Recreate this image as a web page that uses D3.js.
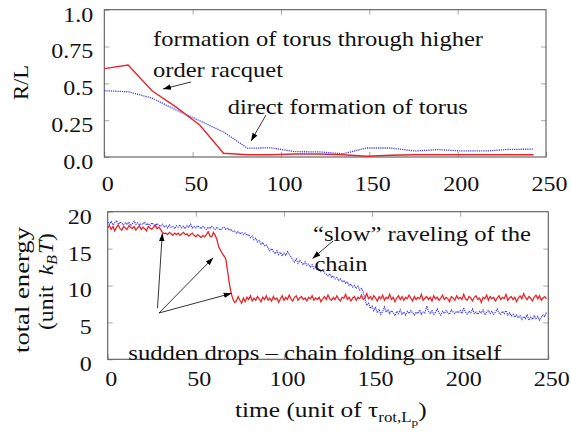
<!DOCTYPE html>
<html>
<head>
<meta charset="utf-8">
<script src="https://cdn.jsdelivr.net/npm/d3@7"></script>
<style>
  body { margin: 0; background: #fff; }
</style>
</head>
<body>
<svg id="chart" width="571" height="434" style="display:block;font-family:'Liberation Serif',serif"></svg>
<script>
// ---- radius-to-length ratio R/L (upper panel) ----
const rlTime = [0, 13.5, 27, 40.5, 54, 67.5, 81, 94.5, 108, 121.5, 135, 148.5, 162, 175.5, 189, 202.5, 216, 229.5, 243];
const rlRacquet = [0.60, 0.625, 0.45, 0.34, 0.217, 0.025, 0.015, 0.015, 0.02, 0.02, 0.015, 0.005, 0.012, 0.015, 0.015, 0.015, 0.015, 0.015, 0.015];
const rlDirect = [0.45, 0.443, 0.40, 0.32, 0.246, 0.17, 0.06, 0.062, 0.036, 0.035, 0.022, 0.061, 0.061, 0.041, 0.05, 0.041, 0.041, 0.052, 0.053];

// ---- total energy, one sample per time unit (lower panel) ----
const energyStep = 1;
const energyFolding = [
  17.8, 18.1, 17.6, 18.0, 17.4, 17.9, 18.2, 17.7, 17.5, 18.0,
  17.8, 17.6, 18.1, 17.9, 17.7, 18.0, 17.5, 17.8, 18.1, 17.6,
  17.9, 17.7, 17.4, 18.0, 17.8, 17.6, 17.9, 18.2, 17.7, 17.9,
  17.6, 17.2, 17.0, 17.1, 16.9, 17.2, 17.0, 16.8, 17.1, 16.9,
  17.1, 16.8, 17.0, 17.2, 16.9, 17.0, 16.7, 16.9, 17.1, 16.8,
  16.6, 16.9, 16.7, 16.5, 16.8, 16.6, 16.9, 17.3, 16.7, 16.6,
  17.2, 16.8, 16.2, 15.2, 14.8, 14.3, 14.0, 13.6, 12.0, 10.3,
  9.0, 8.2, 7.7, 7.9, 8.5, 8.0, 7.6, 8.3, 7.8, 8.4,
  8.1, 8.6, 7.9, 8.3, 8.0, 8.5, 8.2, 7.8, 8.4, 8.1,
  8.6, 8.0, 8.3, 7.9, 8.5, 8.1, 8.3, 7.7, 8.2, 8.6,
  8.0, 8.4, 8.1, 8.7, 8.2, 7.9, 8.4, 8.6, 8.0, 8.3,
  8.5, 8.1, 8.3, 7.9, 8.4, 8.2, 8.6, 8.0, 8.3, 8.1,
  8.4, 7.8, 8.2, 8.5, 8.1, 8.7, 8.2, 8.0, 8.4, 8.1,
  8.6, 8.2, 7.9, 8.4, 8.3, 8.8, 8.1, 8.4, 7.9, 8.3,
  8.5, 8.0, 8.4, 8.2, 8.7, 8.1, 8.3, 8.9, 8.2, 8.5,
  8.1, 8.6, 8.3, 7.9, 8.5, 8.2, 8.7, 8.0, 8.4, 8.2,
  8.8, 8.1, 8.4, 7.8, 8.3, 8.6, 8.1, 8.5, 8.0, 8.4,
  8.2, 8.7, 8.3, 7.9, 8.5, 8.1, 8.4, 8.2, 8.8, 8.0,
  8.3, 8.5, 8.1, 8.4, 7.9, 8.6, 8.2, 8.4, 8.0, 8.3,
  8.7, 8.1, 8.4, 8.2, 7.8, 8.5, 8.3, 8.0, 8.6, 8.2,
  8.4, 8.1, 8.8, 8.2, 8.0, 8.5, 8.3, 7.9, 8.4, 8.6,
  8.1, 8.3, 7.7, 8.4, 8.2, 8.7, 8.0, 8.5, 8.2, 8.4,
  7.9, 8.3, 8.6, 8.1, 8.4, 8.2, 8.8, 8.0, 8.3, 8.5,
  8.1, 8.4, 7.8, 8.3, 8.6, 8.2, 8.9, 8.4, 8.1, 8.5,
  8.3, 7.9, 8.4, 8.7, 8.2, 8.6, 8.0, 8.3, 8.5, 8.2
];
const energyRaveling = [
  18.6, 18.3, 18.7, 18.2, 18.5, 18.8, 18.3, 18.6, 18.4, 18.2,
  18.5, 18.3, 18.6, 18.1, 18.4, 18.7, 18.3, 18.5, 18.2, 18.4,
  18.3, 18.6, 18.2, 18.4, 18.1, 18.5, 18.3, 18.0, 18.4, 18.2,
  18.0, 18.3, 17.9, 18.1, 17.8, 18.2, 17.9, 18.0, 17.7, 18.1,
  17.9, 18.2, 17.8, 18.0, 17.7, 18.1, 17.9, 18.3, 17.8, 18.0,
  17.8, 18.1, 17.9, 17.7, 18.0, 17.8, 17.6, 17.9, 17.7, 18.0,
  17.8, 17.6, 17.9, 17.7, 17.5, 17.8, 17.9, 17.6, 17.8, 17.5,
  17.6, 17.3, 17.4, 17.1, 17.3, 17.0, 17.2, 16.9, 17.1, 16.8,
  16.9, 16.5, 16.7, 16.2, 16.4, 15.9, 16.1, 15.6, 15.8, 15.4,
  15.5, 15.1, 14.7, 15.0, 14.6, 14.3, 14.7, 14.2, 14.5, 14.0,
  14.4, 14.1, 14.6, 14.2, 13.9, 13.5, 13.2, 13.6, 13.0, 13.4,
  13.1, 12.8, 13.2, 12.7, 12.9, 12.5, 12.8, 12.3, 12.6, 12.1,
  12.3, 11.9, 12.1, 11.7, 11.5, 11.3, 11.6, 11.1, 11.3, 10.9,
  11.1, 10.7, 10.9, 10.5, 10.7, 10.3, 10.5, 10.0, 10.2, 9.8,
  10.0, 9.6, 9.9, 9.4, 9.6, 9.1, 8.2, 7.3, 7.6, 6.9,
  7.2, 6.6, 7.0, 6.3, 6.8, 6.1, 6.5, 7.1, 6.4, 6.7,
  6.2, 6.6, 6.3, 5.9, 6.5, 6.2, 6.7, 6.1, 6.4, 6.0,
  6.5, 6.2, 6.6, 6.3, 6.0, 6.4, 6.2, 6.7, 6.1, 6.4,
  6.3, 7.2, 6.5, 6.2, 6.6, 6.1, 6.4, 6.8, 6.3, 6.0,
  6.5, 6.2, 6.6, 6.3, 6.1, 6.7, 6.4, 6.2, 6.5, 6.3,
  6.6, 6.2, 7.0, 6.4, 6.1, 6.5, 6.3, 6.8, 6.2, 6.4,
  6.1, 6.5, 6.3, 6.7, 6.0, 6.4, 6.6, 6.2, 6.5, 6.1,
  6.4, 6.8, 6.3, 6.1, 6.5, 6.2, 6.6, 6.0, 6.3, 5.9,
  6.1, 5.7, 6.0, 5.6, 5.9, 5.4, 5.8, 5.5, 6.0, 5.3,
  5.7, 5.4, 5.9, 5.5, 5.8, 5.3, 5.7, 6.0, 5.8, 6.4
];

// ---- tick labels ----
const timeTicks = [0, 50, 100, 150, 200, 250];
const rlTicks = [0, 0.25, 0.5, 0.75, 1.0];
const rlTickLabels = ["0.0", "0.25", "0.5", "0.75", "1.0"];
const energyTicks = [0, 5, 10, 15, 20];

const RED = "#e8262a";
const BLUE = "#3b3bf5";
const SERIF = "Liberation Serif";
const WIDEN = 1.2; // glyphs in this figure are drawn wide

const svg = d3.select("#chart");

// arrowhead marker
svg.append("defs").append("marker")
  .attr("id", "head")
  .attr("viewBox", "0 0 10 10")
  .attr("refX", 10).attr("refY", 5)
  .attr("markerWidth", 8).attr("markerHeight", 8)
  .attr("markerUnits", "userSpaceOnUse")
  .attr("orient", "auto")
  .append("path").attr("d", "M0,1.5 L10,5 L0,8.5 Z").attr("fill", "#000");

function serif(sel, size) {
  sel.attr("font-family", SERIF).style("font-family", `'${SERIF}', serif`).attr("font-size", size).style("font-size", size + "px");
}

// widen a text element to a given advance with textLength
function widen(sel, width) {
  sel.each(function () {
    const w = width != null ? width : this.getComputedTextLength() * WIDEN;
    d3.select(this).attr("textLength", w).attr("lengthAdjust", "spacingAndGlyphs");
  });
}

// ---- panel helper: frame, inward mirrored ticks, labels ----
function panel(x, y, xTicks, yTicks, yFormat, opt) {
  const [x0, x1] = x.range();
  const [y0, y1] = y.range(); // y0 bottom, y1 top
  const g = svg.append("g");
  const styleTicks = sel => {
    sel.attr("font-family", null).attr("font-size", null);
    sel.select(".domain").remove();
    sel.selectAll(".tick line").attr("stroke", "#a8a8a8").attr("stroke-width", 1);
  };
  // bottom
  g.append("g").attr("transform", `translate(0,${y0})`)
    .call(d3.axisBottom(x).tickValues(xTicks).tickSize(-5).tickPadding(opt.xPad).tickFormat(d3.format("d")))
    .call(styleTicks)
    .call(s => s.selectAll("text").call(serif, 20).attr("fill", "#111").attr("x", 3).call(widen));
  // top
  g.append("g").attr("transform", `translate(0,${y1})`)
    .call(d3.axisTop(x).tickValues(xTicks.filter(t => t > 0 && t < 250)).tickSize(-5).tickFormat(""))
    .call(styleTicks);
  // left
  g.append("g").attr("transform", `translate(${x0},0)`)
    .call(d3.axisLeft(y).tickValues(yTicks).tickSize(-5).tickPadding(0).tickFormat(yFormat))
    .call(styleTicks)
    .call(s => s.selectAll("text").call(serif, 20).attr("fill", "#111")
      .attr("x", -opt.yPad).attr("dy", "0.57em").call(widen));
  // right
  g.append("g").attr("transform", `translate(${x1},0)`)
    .call(d3.axisRight(y).tickValues(yTicks.slice(1, -1)).tickSize(-5).tickFormat(""))
    .call(styleTicks);
  // frame
  g.append("rect")
    .attr("x", x0).attr("y", y1).attr("width", x1 - x0).attr("height", y0 - y1)
    .attr("fill", "none").attr("stroke", "#5a5a5a").attr("stroke-width", 1.1);
  return g;
}

// ---- text helper ----
function label(build, x, y, width, anchor, rotate) {
  const t = svg.append("text").attr("text-anchor", anchor || "start").attr("fill", "#111").call(serif, 21);
  build(t);
  if (rotate) {
    t.attr("transform", `translate(${x},${y}) rotate(${rotate})`);
  } else {
    t.attr("x", x).attr("y", y);
  }
  widen(t, width);
  return t;
}

function arrow(x1, y1, x2, y2) {
  svg.append("line")
    .attr("x1", x1).attr("y1", y1).attr("x2", x2).attr("y2", y2)
    .attr("stroke", "#000").attr("stroke-width", 0.8)
    .attr("marker-end", "url(#head)");
}

// ================= upper panel: R/L =================
const xTop = d3.scaleLinear().domain([0, 250]).range([104.3, 546]);
const yTop = d3.scaleLinear().domain([0, 1]).range([157, 9.7]);
panel(xTop, yTop, timeTicks, rlTicks, d => rlTickLabels[rlTicks.indexOf(d)], { xPad: 19.5, yPad: 11 });

const lineTop = d3.line().x((d, i) => xTop(rlTime[i])).y(d => yTop(d));
svg.append("path").datum(rlDirect).attr("d", lineTop)
  .attr("fill", "none").attr("stroke", BLUE).attr("stroke-width", 1.3).attr("stroke-dasharray", "1.2,1");
svg.append("path").datum(rlRacquet).attr("d", lineTop)
  .attr("fill", "none").attr("stroke", RED).attr("stroke-width", 1.4);

label(t => t.text("formation of torus through higher"), 153, 46, 330);
label(t => t.text("order racquet"), 153, 76.7, 130);
label(t => t.text("direct formation of torus"), 227.7, 113.5, 240);
arrow(191, 82, 163, 89);
arrow(266, 115, 251, 141);

label(t => t.text("R/L"), 28, 82.5, 35, "middle", -90);

// ================= lower panel: total energy =================
const xBot = d3.scaleLinear().domain([0, 250]).range([107.7, 548.3]);
const yBot = d3.scaleLinear().domain([0, 20]).range([359.3, 211.7]);
panel(xBot, yBot, timeTicks, energyTicks, d3.format("d"), { xPad: 12.3, yPad: 16 });

const lineBot = d3.line().x((d, i) => xBot(i * energyStep)).y(d => yBot(d));
svg.append("path").datum(energyRaveling).attr("d", lineBot)
  .attr("fill", "none").attr("stroke", BLUE).attr("stroke-width", 1.2).attr("stroke-dasharray", "1.2,0.9");
svg.append("path").datum(energyFolding).attr("d", lineBot)
  .attr("fill", "none").attr("stroke", RED).attr("stroke-width", 1.3);

label(t => t.text("\u201Cslow\u201D raveling of the"), 313, 241, 218);
label(t => t.text("chain"), 314.5, 271, 53);
arrow(333, 241, 312.5, 258.5);

label(t => t.text("sudden drops \u2013 chain folding on itself"), 128.3, 360, 373);
arrow(157.5, 308, 162.3, 233.3);
arrow(159, 313, 213.3, 257.7);
arrow(159, 313, 231.7, 293.3);

label(t => t.text("total energy"), 28.5, 290, 126, "middle", -90);
label(t => {
  t.append("tspan").text("(unit");
  t.append("tspan").attr("dx", 9).attr("font-style", "italic").text("k");
  t.append("tspan").attr("font-style", "italic").style("font-size", "14px").attr("dy", 4).text("B");
  t.append("tspan").attr("font-style", "italic").attr("dy", -4).attr("dx", 1).text("T");
  t.append("tspan").text(")");
}, 53, 281.5, 97, "middle", -90);

label(t => {
  t.append("tspan").text("time (unit of \u03C4");
  t.append("tspan").style("font-size", "14px").attr("dy", 5).text("rot,L");
  t.append("tspan").style("font-size", "11px").attr("dy", 4).text("p");
  t.append("tspan").attr("dy", -9).text(")");
}, 235, 416.7, 191.7);
</script>
</body>
</html>
